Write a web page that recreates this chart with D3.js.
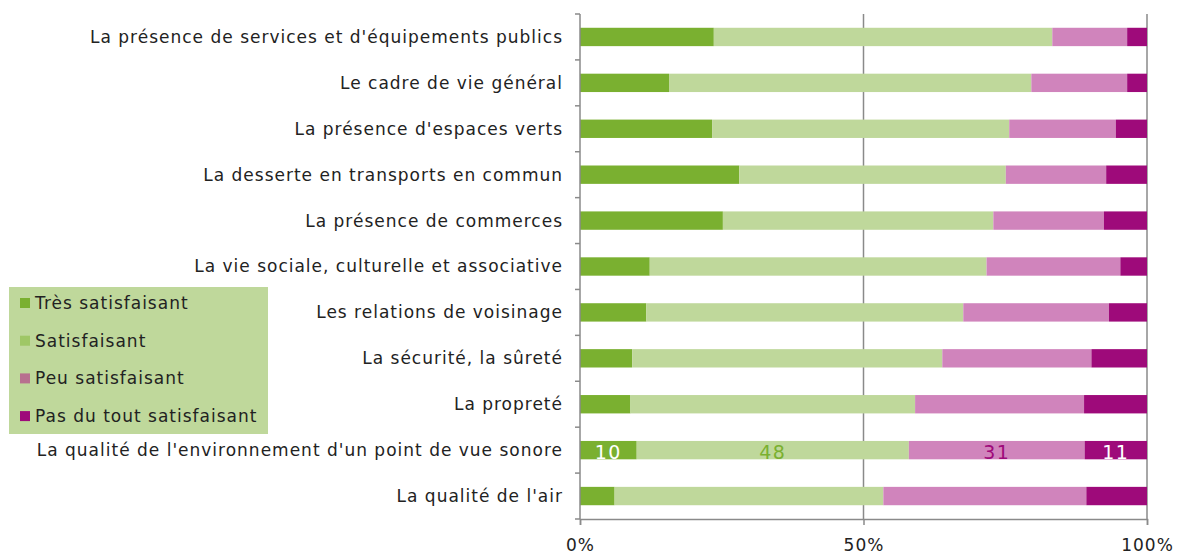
<!DOCTYPE html>
<html>
<head>
<meta charset="utf-8">
<script src="https://cdn.jsdelivr.net/npm/d3@7"></script>
<style>
  html, body { margin:0; padding:0; background:#fff; }
  svg text { font-family: "DejaVu Sans", Verdana, sans-serif; }
</style>
</head>
<body>
<svg id="chart" width="1179" height="554"></svg>
<script>
"use strict";
// barres empilées 100 % — satisfaction par thème
const categories = [
  "La présence de services et d'équipements publics",
  "Le cadre de vie général",
  "La présence d'espaces verts",
  "La desserte en transports en commun",
  "La présence de commerces",
  "La vie sociale, culturelle et associative",
  "Les relations de voisinage",
  "La sécurité, la sûreté",
  "La propreté",
  "La qualité de l'environnement d'un point de vue sonore",
  "La qualité de l'air"
];
const seriesNames = ["Très satisfaisant","Satisfaisant","Peu satisfaisant","Pas du tout satisfaisant"];
const tresSatisfaisant = [23.6, 15.7, 23.3, 28.1, 25.2, 12.3, 11.7,  9.2,  8.9, 10,  6.1];
const satisfaisant     = [59.7, 63.9, 52.4, 47.0, 47.7, 59.4, 55.9, 54.7, 50.2, 48, 47.4];
const peuSatisfaisant  = [13.2, 16.9, 18.8, 17.7, 19.5, 23.6, 25.7, 26.3, 29.8, 31, 35.8];
const pasDuTout        = [ 3.5,  3.5,  5.5,  7.2,  7.6,  4.7,  6.7,  9.8, 11.1, 11, 10.7];
const labelledRow = "La qualité de l'environnement d'un point de vue sonore";   // seule ligne avec étiquettes
const xTicks = [0, 50, 100];

const COLORS = ["#7ab030","#bfd89b","#d084bc","#9e0a7a"];
const LEGEND_COLORS = ["#7ab030","#9fc766","#b8718f","#9e0a7a"];
const LABEL_COLORS = ["#ffffff","#7ab030","#9e0a7a","#ffffff"];
const FS = 17, LS = 1;   // police un peu grande + interlettrage, façon Verdana/Excel

const svg = d3.select("#chart");
const M = {left:580, right:1147, top:14, bottom:519};

const rows = categories.map((c,i)=>({ cat:c, s0:tresSatisfaisant[i], s1:satisfaisant[i], s2:peuSatisfaisant[i], s3:pasDuTout[i] }));
const stack = d3.stack().keys(["s0","s1","s2","s3"])(rows);

const x = d3.scaleLinear().domain([0,100]).range([M.left, M.right]);
const y = d3.scaleBand().domain(categories).range([M.top, M.bottom]).paddingInner(0.6).paddingOuter(0.3);

// quadrillage vertical (50 %, 100 %)
svg.append("g").selectAll("line").data([50,100]).join("line")
  .attr("x1",(d)=>x(d)).attr("x2",(d)=>x(d)).attr("y1",M.top).attr("y2",M.bottom)
  .attr("stroke","#8a8a8a").attr("stroke-width",1.5);

// barres
const defs = svg.append("defs");
const layers = svg.append("g").selectAll("g").data(stack).join("g").attr("fill",(d,i)=>COLORS[i]);
layers.selectAll("rect").data((d)=>d).join("rect")
  .attr("x",(d)=>x(d[0])).attr("width",(d)=>x(d[1])-x(d[0]))
  .attr("y",(d)=>y(d.data.cat)).attr("height",y.bandwidth());

// étiquettes de la ligne « sonore » (coupées par le bas de la barre, comme dans l'original)
const lr = rows.find((r)=>r.cat===labelledRow);
defs.append("clipPath").attr("id","clipRow").append("rect")
  .attr("x",M.left).attr("width",M.right-M.left).attr("y",y(labelledRow)).attr("height",y.bandwidth());
const lblG = svg.append("g").attr("clip-path","url(#clipRow)");
stack.forEach((layer,i)=>{
  const d = layer.find((p)=>p.data===lr);
  lblG.append("text").attr("x",(x(d[0])+x(d[1]))/2).attr("y",y(labelledRow)+y.bandwidth()/2+9)
    .attr("text-anchor","middle").attr("font-size",19).attr("fill",LABEL_COLORS[i])
    .attr("letter-spacing",1.5).text(Math.round(d[1]-d[0]));
});

// axe vertical + graduations entre catégories
const ax = svg.append("g").attr("stroke","#8a8a8a").attr("stroke-width",1.5);
ax.append("line").attr("x1",M.left).attr("x2",M.left).attr("y1",M.top).attr("y2",M.bottom);
const step = y.step();
ax.selectAll("line.tk").data(d3.range(categories.length+1)).join("line").attr("class","tk")
  .attr("x1",M.left-5).attr("x2",M.left).attr("y1",(i)=>M.top+i*step).attr("y2",(i)=>M.top+i*step);

// axe horizontal
const xAxis = svg.append("g").attr("transform",`translate(0,${M.bottom})`)
  .call(d3.axisBottom(x).tickValues(xTicks).tickFormat((d)=>d+"%").tickSize(6).tickPadding(14));
xAxis.select(".domain").attr("stroke","#8a8a8a").attr("stroke-width",1.5);
xAxis.selectAll(".tick line").attr("stroke","#8a8a8a").attr("stroke-width",1.5);
xAxis.selectAll(".tick text").attr("font-size",FS).attr("fill","#222").attr("letter-spacing",LS)
  .attr("font-family","\"DejaVu Sans\", Verdana, sans-serif");

// libellés des catégories
svg.append("g").selectAll("text").data(categories).join("text")
  .attr("x",M.left-17).attr("y",(d)=>y(d)+y.bandwidth()/2).attr("dy","0.35em")
  .attr("text-anchor","end").attr("font-size",FS).attr("letter-spacing",LS).attr("fill","#222").text((d)=>d);

// légende
const lg = svg.append("g");
lg.append("rect").attr("x",9).attr("y",287).attr("width",259).attr("height",147).attr("fill","#bfd89b");
const li = lg.selectAll("g").data(seriesNames).join("g").attr("transform",(d,i)=>`translate(20,${303+i*37.7})`);
li.append("rect").attr("x",0).attr("y",-5).attr("width",10).attr("height",10).attr("fill",(d,i)=>LEGEND_COLORS[i]);
li.append("text").attr("x",15).attr("dy","0.35em").attr("font-size",FS).attr("letter-spacing",LS)
  .attr("fill","#222").text((d)=>d);
</script>
</body>
</html>
